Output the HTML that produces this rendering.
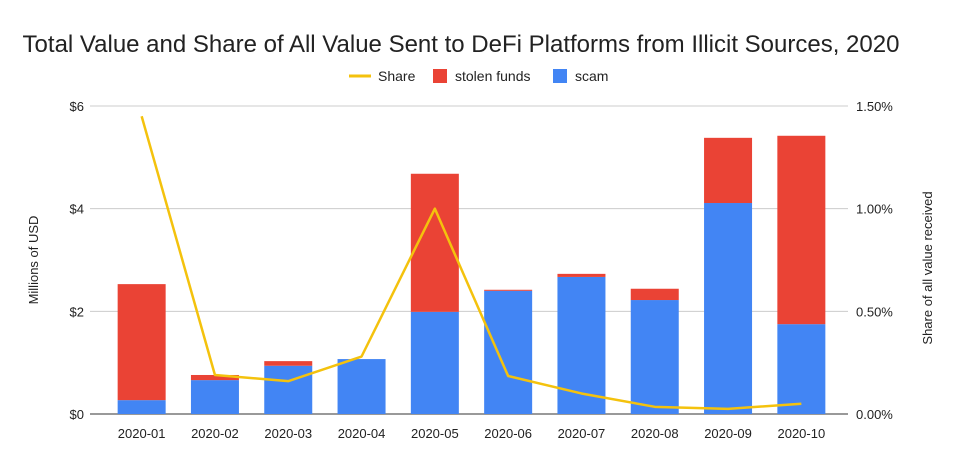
<!DOCTYPE html>
<html><head><meta charset="utf-8">
<style>
body{margin:0;background:#fff;font-family:"Liberation Sans",sans-serif;}
svg text{font-family:"Liberation Sans",sans-serif;}
</style></head>
<body>
<svg id="chart" width="960" height="462" xmlns="http://www.w3.org/2000/svg">
<text x="461" y="52" text-anchor="middle" font-size="24" fill="#222">Total Value and Share of All Value Sent to DeFi Platforms from Illicit Sources, 2020</text>
<g>
<g><line x1="349" y1="76" x2="371" y2="76" stroke="#f4c20d" stroke-width="3"/><text x="378" y="81" font-size="14" fill="#222">Share</text></g>
<g><rect x="433" y="69" width="14" height="14" fill="#ea4335"/><text x="455" y="81" font-size="14" fill="#222">stolen funds</text></g>
<g><rect x="553" y="69" width="14" height="14" fill="#4285f4"/><text x="575" y="81" font-size="14" fill="#222">scam</text></g>
</g>
<text transform="translate(38,260) rotate(-90)" text-anchor="middle" font-size="13" fill="#222">Millions of USD</text>
<text transform="translate(932,268) rotate(-90)" text-anchor="middle" font-size="13" fill="#222">Share of all value received</text>
<g id="grid"></g><g id="bars"></g><g id="line"></g><g id="axes"></g>
</svg>
<script>
const categories=["2020-01","2020-02","2020-03","2020-04","2020-05","2020-06","2020-07","2020-08","2020-09","2020-10"];
const scam=[0.27,0.66,0.94,1.07,1.99,2.40,2.67,2.22,4.11,1.75];
const stolen=[2.26,0.10,0.09,0.00,2.69,0.02,0.06,0.22,1.27,3.67];
const share=[1.45,0.19,0.16,0.28,1.00,0.185,0.10,0.035,0.025,0.05];
const leftTicks=[0,2,4,6];
const leftLabels=["$0","$2","$4","$6"];
const rightTicks=[0,0.5,1.0,1.5];
const rightLabels=["0.00%","0.50%","1.00%","1.50%"];
const NS="http://www.w3.org/2000/svg";
const x0=105,x1=838,yB=414,yT=106;
const yL=v=>yB-(v/6)*(yB-yT);
const yR=v=>yB-(v/1.5)*(yB-yT);
const step=(x1-x0)/categories.length;
const xc=i=>x0+step*(i+0.5);
function mk(t,a,p){const e=document.createElementNS(NS,t);for(const k in a)e.setAttribute(k,a[k]);p.appendChild(e);return e;}
const grid=document.getElementById('grid'),bars=document.getElementById('bars'),line=document.getElementById('line'),axes=document.getElementById('axes');
leftTicks.forEach((v,i)=>{
 const g=mk('line',{x1:90,x2:848,y1:yL(v),y2:yL(v),stroke:i==0?'#333':'#ccc','stroke-width':1},grid);
 
 
 const t=mk('text',{x:84,y:yL(v)+5,'text-anchor':'end','font-size':13,fill:'#222'},axes);t.textContent=leftLabels[i];
 
 
});
rightTicks.forEach((v,i)=>{
 const t=mk('text',{x:856,y:yR(v)+5,'font-size':13,fill:'#222'},axes);t.textContent=rightLabels[i];
 
 
});
const bw=48;
categories.forEach((c,i)=>{
 const r1=mk('rect',{x:xc(i)-bw/2,y:yL(scam[i]),width:bw,height:yB-yL(scam[i]),fill:'#4285f4'},bars);
 
 
 const r2=mk('rect',{x:xc(i)-bw/2,y:yL(scam[i]+stolen[i]),width:bw,height:yL(scam[i])-yL(scam[i]+stolen[i]),fill:'#ea4335'},bars);
 
 
 const t=mk('text',{x:xc(i),y:438,'text-anchor':'middle','font-size':13,fill:'#222'},axes);t.textContent=c;
 
 
});
const pts=share.map((v,i)=>xc(i)+','+yR(v)).join(' ');
const pl=mk('polyline',{points:pts,fill:'none',stroke:'#f4c20d','stroke-width':2.5,'stroke-linejoin':'round'},line);


</script>
</body></html>
